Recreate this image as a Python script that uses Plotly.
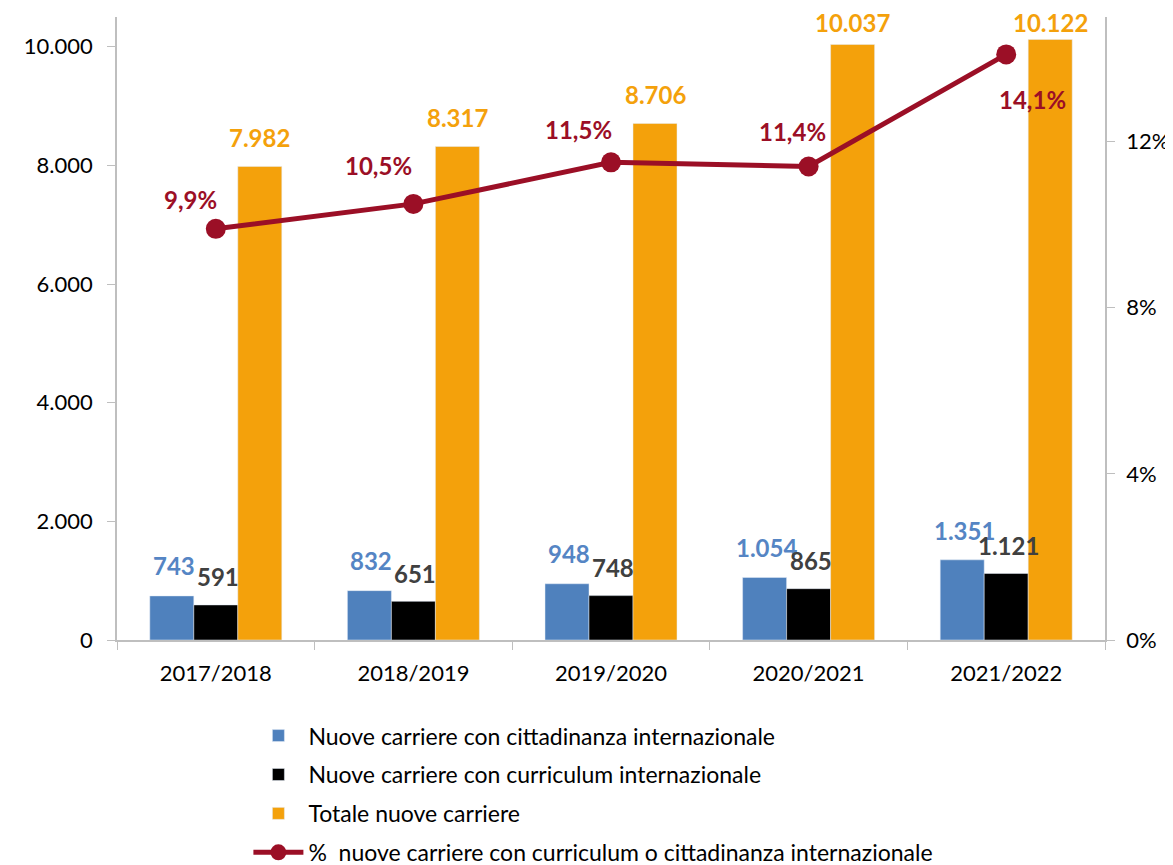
import plotly.graph_objects as go

categories = ["2017/2018", "2018/2019", "2019/2020", "2020/2021", "2021/2022"]
cittadinanza = [743, 832, 948, 1054, 1351]
curriculum = [591, 651, 748, 865, 1121]
totale = [7982, 8317, 8706, 10037, 10122]
percentuale = [0.099, 0.105, 0.115, 0.114, 0.141]

names = [
    "Nuove carriere con cittadinanza internazionale",
    "Nuove carriere con curriculum internazionale",
    "Totale nuove carriere",
    "%  nuove carriere con curriculum o cittadinanza internazionale",
]

BLUE = "#4F81BD"
BLACK = "#000000"
ORANGE = "#F4A10B"
RED = "#9B0F26"
FONT = "Lato"

fig = go.Figure()
fig.add_trace(go.Bar(x=categories, y=cittadinanza, name=names[0], marker_color=BLUE,
                     legendgroup="a"))
fig.add_trace(go.Bar(x=categories, y=curriculum, name=names[1], marker_color=BLACK,
                     legendgroup="b"))
fig.add_trace(go.Bar(x=categories, y=totale, name=names[2], marker_color=ORANGE,
                     legendgroup="c"))
fig.add_trace(go.Scatter(x=categories, y=percentuale, name=names[3], yaxis="y2",
                         mode="lines+markers", line=dict(color=RED, width=5),
                         marker=dict(color=RED, size=20), legendgroup="d"))


def fmt_int(v):
    return f"{v:,}".replace(",", ".")


def fmt_pct(v):
    return f"{v*100:.1f}%".replace(".", ",")


ann = []
# label offsets (style only): per series x offset, per label vertical offset
bar_series = [
    (cittadinanza, -42, "#5585C4", [30, 30, 30, 30, 29]),
    (curriculum, 2, "#404040", [28, 28, 28, 28, 28]),
    (totale, 44, ORANGE, [29, 29, 29, 22, 17]),
]
for vals, dx, col, dys in bar_series:
    for c, v, dy in zip(categories, vals, dys):
        ann.append(dict(x=c, y=v, xref="x", yref="y", text=fmt_int(v), showarrow=False,
                        xshift=dx, yshift=dy,
                        font=dict(family=FONT, size=24, color=col, weight="bold")))

pct_shift = [(-25, 29), (-35, 38), (-33, 33), (-16, 35), (26, -45)]
for c, v, (dx, dy) in zip(categories, percentuale, pct_shift):
    ann.append(dict(x=c, y=v, xref="x", yref="y2", text=fmt_pct(v), showarrow=False,
                    xshift=dx, yshift=dy,
                    font=dict(family=FONT, size=24, color=RED, weight="bold")))

fig.update_layout(
    width=1165, height=857,
    margin=dict(l=109, r=68, t=9, b=225, autoexpand=False),
    plot_bgcolor="white", paper_bgcolor="white",
    separators=",.",
    font=dict(family=FONT, size=22, color="#000000"),
    barmode="group", bargap=0.332, bargroupgap=0,
    xaxis=dict(type="category", showline=True, linecolor="#BFBFBF", linewidth=1.5,
               ticks="outside", tickson="boundaries", ticklen=8, tickcolor="#BFBFBF",
               tickfont=dict(size=22), showgrid=False, automargin=False,
               ticklabelstandoff=13),
    yaxis=dict(range=[0, 10500], tickvals=[0, 2000, 4000, 6000, 8000, 10000],
               tickformat=",d", showline=True, linecolor="#BFBFBF", linewidth=1.5,
               ticks="outside", ticklen=8, tickcolor="#BFBFBF", showgrid=False,
               zeroline=False, tickfont=dict(size=22), automargin=False,
               ticklabelstandoff=10),
    yaxis2=dict(range=[0, 0.15], tickvals=[0, 0.04, 0.08, 0.12], tickformat=".0%",
                overlaying="y", side="right", showline=True, linecolor="#BFBFBF",
                linewidth=1.5, ticks="outside", ticklen=8, tickcolor="#BFBFBF",
                showgrid=False, zeroline=False, tickfont=dict(size=22), automargin=False,
                ticklabelstandoff=7),
    legend=dict(x=0.133, y=-0.119, xanchor="left", yanchor="top", orientation="v",
                tracegroupgap=6, font=dict(size=23), itemwidth=50,
                bgcolor="rgba(0,0,0,0)"),
    annotations=ann,
)

fig.write_html("out.html")
